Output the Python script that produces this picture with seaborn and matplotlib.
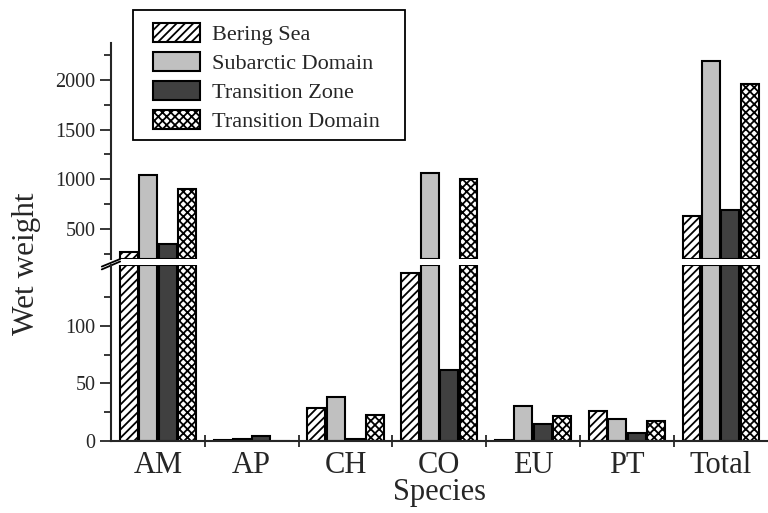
import pandas as pd
import matplotlib
matplotlib.use('Agg')
import matplotlib.pyplot as plt
import matplotlib.patches as mpatches
import seaborn as sns
from matplotlib.ticker import FixedLocator

sns.set_style('ticks')
plt.rcParams['font.family'] = ['Liberation Serif', 'DejaVu Serif']
plt.rcParams['hatch.linewidth'] = 1.3

species = ['AM', 'AP', 'CH', 'CO', 'EU', 'PT', 'Total']
regions = ['Bering Sea', 'Subarctic Domain', 'Transition Zone', 'Transition Domain']
bering_sea = [275, 1, 29, 146, 0.5, 26, 630]
subarctic_domain = [1040, 1.5, 38, 1060, 30, 19, 2190]
transition_zone = [350, 4, 2, 62, 15, 7, 690]
transition_domain = [900, 0, 23, 1005, 22, 17, 1960]

colors = ['white', '#c0c0c0', '#404040', 'white']
hatches = ['////', '', '', 'xxxx']

rows = []
for reg, vals in zip(regions, [bering_sea, subarctic_domain, transition_zone, transition_domain]):
    for sp, v in zip(species, vals):
        rows.append({'Species': sp, 'Region': reg, 'Wet weight': v})
df = pd.DataFrame(rows)

fig = plt.figure(figsize=(7.68, 5.13), dpi=100)
ax_top = fig.add_axes([0.1445, 0.4951, 0.855, 0.4211])
ax_bot = fig.add_axes([0.1445, 0.1404, 0.855, 0.3430])

TOP_LIM = (200, 2370)
BOT_LIM = (0, 153)

for ax in (ax_top, ax_bot):
    sns.barplot(data=df, x='Species', y='Wet weight', hue='Region', hue_order=regions,
                palette=colors, saturation=1, errorbar=None, width=0.83, gap=0.08,
                edgecolor='black', linewidth=1.5, legend=False, ax=ax)
    for cont, h in zip(ax.containers, hatches):
        for p in cont.patches:
            p.set_hatch(h)
            p.set_edgecolor('black')
    ax.set_xlim(-0.5, 6.5)
    for side in ('top', 'right'):
        ax.spines[side].set_visible(False)
    ax.spines['left'].set_linewidth(1.5)
    ax.spines['bottom'].set_linewidth(1.5)
    ax.set_xlabel('')
    ax.set_ylabel('')
    ax.tick_params(axis='y', which='major', direction='out', length=8, width=1.3,
                   labelsize=14.5, pad=3)
    ax.tick_params(axis='y', which='minor', direction='out', length=5, width=1.3)

# cut the bars at the break so their edges show on both sides
ax_top.set_ylim(*TOP_LIM)
for p in ax_top.patches:
    h = p.get_height()
    if h > TOP_LIM[0]:
        p.set_y(TOP_LIM[0])
        p.set_height(h - TOP_LIM[0])
    else:
        p.set_visible(False)
ax_bot.set_ylim(*BOT_LIM)
for p in ax_bot.patches:
    if p.get_height() > BOT_LIM[1]:
        p.set_height(BOT_LIM[1])

ax_top.spines['bottom'].set_visible(False)
ax_top.tick_params(axis='x', which='both', bottom=False, labelbottom=False)
ax_top.yaxis.set_major_locator(FixedLocator([500, 1000, 1500, 2000]))
ax_top.yaxis.set_minor_locator(FixedLocator([250, 750, 1250, 1750, 2250]))

ax_bot.yaxis.set_major_locator(FixedLocator([0, 50, 100]))
ax_bot.yaxis.set_minor_locator(FixedLocator([25, 75, 125]))
ax_bot.xaxis.set_minor_locator(FixedLocator([0.5, 1.5, 2.5, 3.5, 4.5, 5.5]))
ax_bot.tick_params(axis='x', which='major', length=0, labelsize=22, pad=7)
ax_bot.tick_params(axis='x', which='minor', direction='inout', length=9, width=1.3)
ax_bot.set_xlabel('Species', fontsize=22, labelpad=-1)

fig.text(0.035, 1 - 264 / 513, 'Wet weight', rotation=90, fontsize=22.5,
         ha='center', va='center')

# break marks on the y axis
kw = dict(color='black', lw=1.3, clip_on=False)
ax_top.plot([-0.014, 0.014], [-0.035, 0.0], transform=ax_top.transAxes, **kw)
ax_bot.plot([-0.014, 0.014], [0.975, 1.02], transform=ax_bot.transAxes, **kw)

# legend box drawn separately: it is wider than the legend padding allows
fig.patches.append(mpatches.Rectangle((133 / 768, 1 - 140 / 513), 272 / 768, 130 / 513,
                                      transform=fig.transFigure, facecolor='white',
                                      edgecolor='black', linewidth=1.3, zorder=4))
leg = fig.legend(handles=ax_bot.containers, labels=regions, loc='upper left',
                 bbox_to_anchor=(153 / 768, 1 - 23 / 513), fontsize=16,
                 frameon=False, borderpad=0, borderaxespad=0,
                 handlelength=2.1, handleheight=0.95, labelspacing=0.3,
                 handletextpad=0.55)
leg.set_zorder(5)

fig.savefig('out.png', dpi=100)
